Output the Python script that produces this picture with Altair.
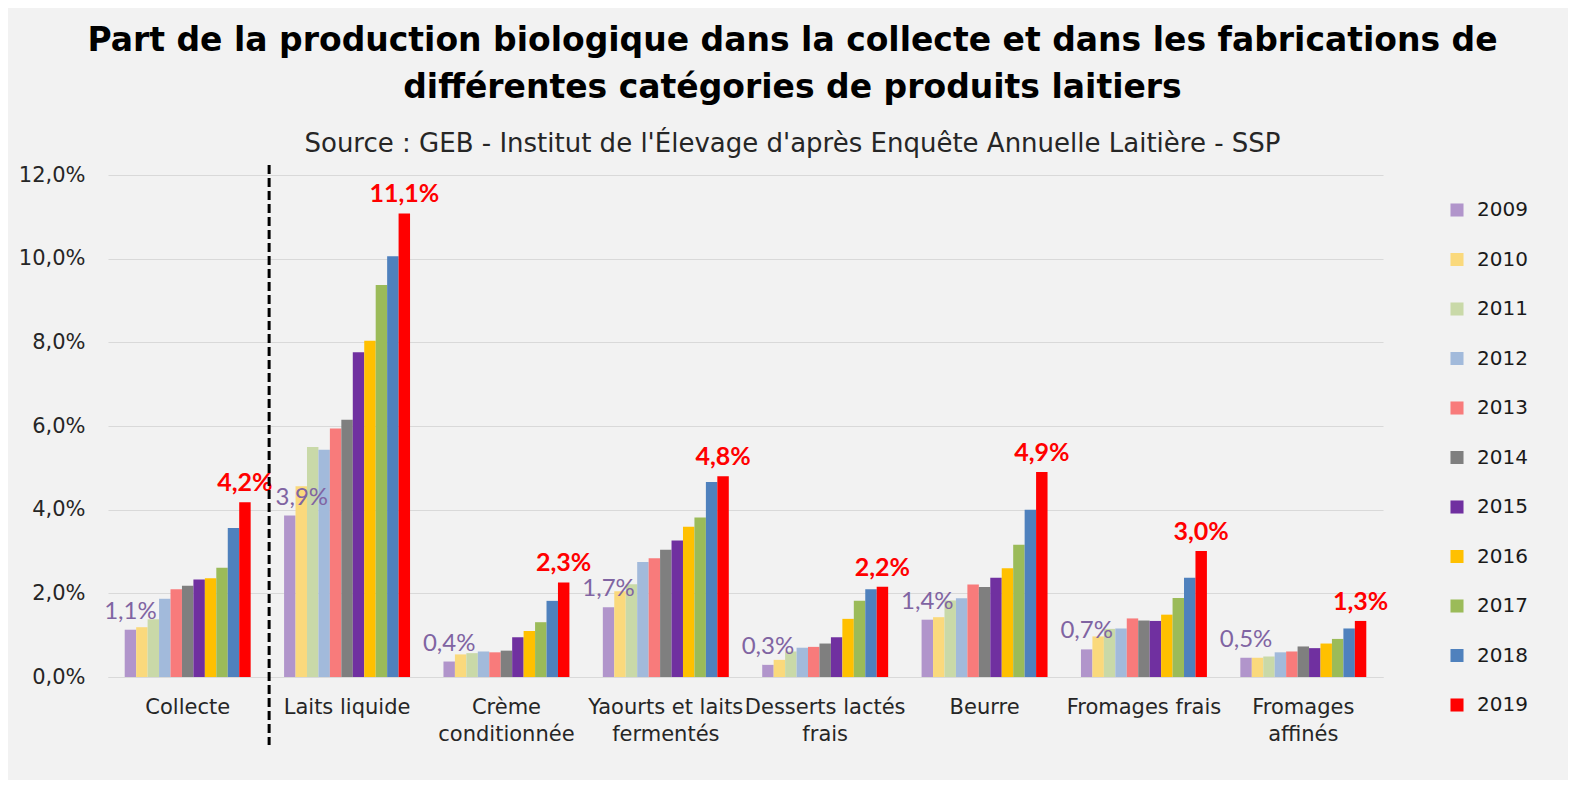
import altair as alt
import pandas as pd

FONT = "DejaVu Sans"
LFONT = "Lato"

categories = ["Collecte", "Laits liquide", "Crème\nconditionnée", "Yaourts et laits\nfermentés",
              "Desserts lactés\nfrais", "Beurre", "Fromages frais", "Fromages\naffinés"]
years = ["2009", "2010", "2011", "2012", "2013", "2014", "2015", "2016", "2017", "2018", "2019"]
colors = ["#B195CB", "#FAD97C", "#C9D9A8", "#A2BADB", "#F87B7B", "#7F7F7F",
          "#7030A0", "#FFC000", "#9BBB59", "#4F81BD", "#FF0000"]

collecte = [1.13, 1.19, 1.38, 1.87, 2.10, 2.18, 2.33, 2.36, 2.61, 3.56, 4.18]
laits = [3.86, 4.56, 5.50, 5.43, 5.94, 6.15, 7.76, 8.04, 9.37, 10.06, 11.08]
creme = [0.37, 0.54, 0.57, 0.61, 0.59, 0.63, 0.95, 1.10, 1.31, 1.82, 2.26]
yaourts = [1.67, 2.05, 2.22, 2.75, 2.84, 3.04, 3.26, 3.59, 3.81, 4.66, 4.80]
desserts = [0.29, 0.41, 0.61, 0.70, 0.72, 0.80, 0.95, 1.39, 1.82, 2.10, 2.16]
beurre = [1.37, 1.43, 1.83, 1.88, 2.21, 2.15, 2.37, 2.60, 3.16, 4.00, 4.90]
frais = [0.66, 0.97, 1.15, 1.16, 1.40, 1.35, 1.34, 1.49, 1.89, 2.37, 3.01]
affines = [0.46, 0.46, 0.49, 0.59, 0.61, 0.73, 0.69, 0.80, 0.91, 1.16, 1.34]

series = [collecte, laits, creme, yaourts, desserts, beurre, frais, affines]
rows = []
for cat, vals in zip(categories, series):
    for yr, v in zip(years, vals):
        rows.append({"categorie": cat, "annee": yr, "valeur": v})
df = pd.DataFrame(rows)

fmt = "replace(format(datum.valeur, '.1f'), '.', ',') + '%'"

x_enc = alt.X("categorie:N", sort=categories,
              scale=alt.Scale(paddingInner=0.066, paddingOuter=0.033),
              axis=alt.Axis(title=None, labelExpr="split(datum.label, '\\n')", labelFontSize=21,
                            labelPadding=19, labelLineHeight=27, domain=True, domainColor="#D9D9D9",
                            ticks=False, labelAngle=0, labelColor="#262626", labelFont=FONT,
                            labelLimit=300, labelBaseline="top"))
xo_enc = alt.XOffset("annee:N", sort=years, scale=alt.Scale(paddingOuter=1, paddingInner=0))
y_enc = alt.Y("valeur:Q", scale=alt.Scale(domain=[0, 12]),
              axis=alt.Axis(values=[0, 2, 4, 6, 8, 10, 12], title=None,
                            labelExpr="replace(format(datum.value, '.1f'), '.', ',') + '%'",
                            domain=False, ticks=False, gridColor="#D9D9D9", labelPadding=23,
                            labelFontSize=21, labelFont=FONT, labelColor="#262626"))
color_enc = alt.Color("annee:N", sort=years, scale=alt.Scale(domain=years, range=colors),
                      legend=alt.Legend(title=None, orient="none", legendX=1339, legendY=25,
                                        symbolType="square", symbolSize=170, symbolStrokeWidth=0,
                                        labelFontSize=20, labelFont=FONT, labelColor="#1a1a1a",
                                        rowPadding=29.5, labelOffset=10))

base = alt.Chart(df)
bars = base.mark_bar().encode(x=x_enc, xOffset=xo_enc, y=y_enc, color=color_enc)

first = base.transform_filter(
    (alt.datum.annee == "2009") & (alt.datum.categorie != "Laits liquide")
).transform_calculate(label=fmt).mark_text(
    baseline="bottom", dy=-6, fontSize=24, color="#8064A2", font=LFONT
).encode(x=x_enc, xOffset=xo_enc, y=y_enc, text="label:N")

first_shift = base.transform_filter(
    (alt.datum.annee == "2009") & (alt.datum.categorie == "Laits liquide")
).transform_calculate(label=fmt).mark_text(
    baseline="bottom", dy=-6, dx=12, fontSize=24, color="#8064A2", font=LFONT
).encode(x=x_enc, xOffset=xo_enc, y=y_enc, text="label:N")

last = base.transform_filter(alt.datum.annee == "2019").transform_calculate(label=fmt).mark_text(
    baseline="bottom", dy=-6, fontSize=25, fontWeight="bold", color="#FF0000", font=LFONT
).encode(x=x_enc, xOffset=xo_enc, y=y_enc, text="label:N")

sep = pd.DataFrame({"categorie": ["Collecte"]})
rule = alt.Chart(sep).mark_rule(strokeDash=[9, 4], strokeWidth=3, color="black", xOffset=7).encode(
    x=alt.X("categorie:N", sort=categories, bandPosition=1),
    y=alt.value(-10), y2=alt.value(570)
)

chart = alt.layer(bars, first, first_shift, last, rule).properties(
    width=1275, height=502,
    title=alt.Title(
        ["Part de la production biologique dans la collecte et dans les fabrications de",
         "différentes catégories de produits laitiers"],
        subtitle="Source : GEB - Institut de l'Élevage d'après Enquête Annuelle Laitière - SSP",
        fontSize=33, font=FONT, fontWeight="bold", color="black", lineHeight=47,
        subtitleFontSize=26, subtitleFont=FONT, subtitleColor="#262626", subtitlePadding=26,
        anchor="middle", dx=47, offset=7
    ),
    padding={"left": 100, "top": 167, "right": 185, "bottom": 103},
    autosize=alt.AutoSizeParams(type="none"),
    background="#F2F2F2"
).configure_view(strokeWidth=0)

chart.save("out.html", embed_options={"renderer": "svg", "actions": False})
